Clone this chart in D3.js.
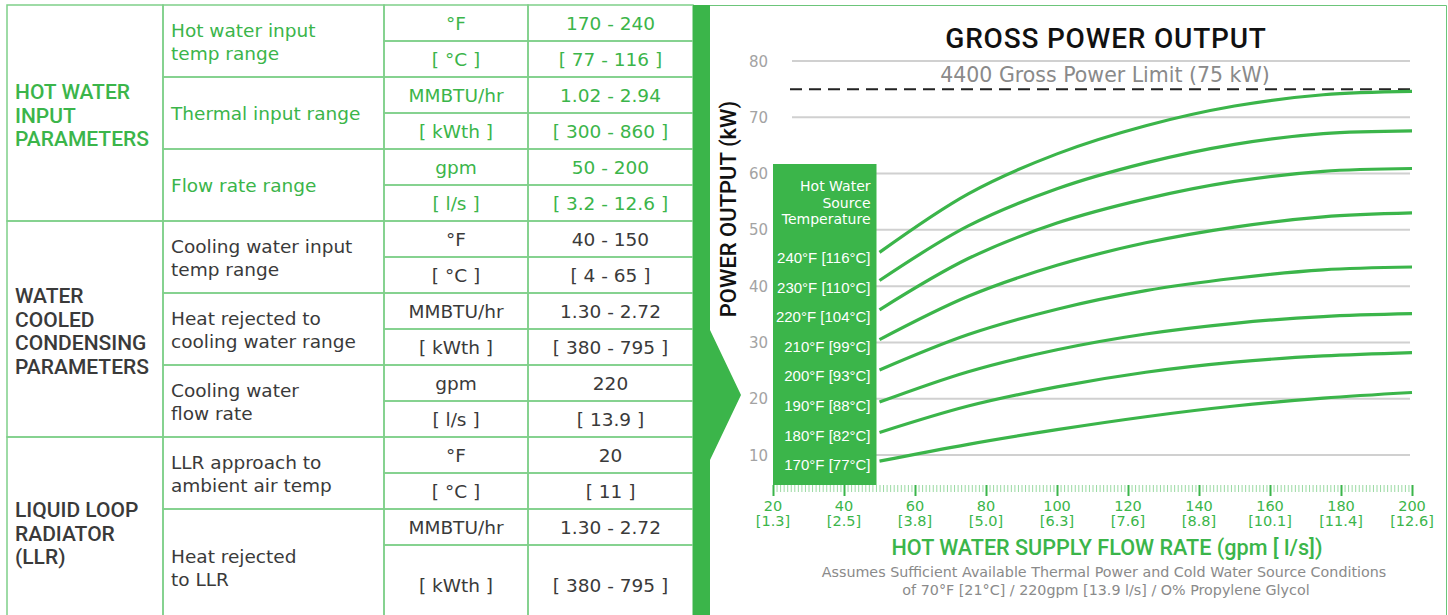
<!DOCTYPE html>
<html>
<head>
<meta charset="utf-8">
<script src="https://cdnjs.cloudflare.com/ajax/libs/d3/7.8.5/d3.min.js"></script>
<style>
  body { margin: 0; background: #fff; }
  svg { display: block; }
</style>
</head>
<body>
<div id="chart"></div>
<script>
// ---- table data ----
const sectionTitles = [
  ["HOT WATER", "INPUT", "PARAMETERS"],
  ["WATER", "COOLED", "CONDENSING", "PARAMETERS"],
  ["LIQUID LOOP", "RADIATOR", "(LLR)"]
];
const sectionRows = [6, 6, 4];
const paramLabels = [
  ["Hot water input", "temp range"],
  ["Thermal input range"],
  ["Flow rate range"],
  ["Cooling water input", "temp range"],
  ["Heat rejected to", "cooling water range"],
  ["Cooling water", "flow rate"],
  ["LLR approach to", "ambient air temp"],
  ["Heat rejected", "to LLR"]
];
const units = ["°F", "[ °C ]", "MMBTU/hr", "[ kWth ]", "gpm", "[ l/s ]",
               "°F", "[ °C ]", "MMBTU/hr", "[ kWth ]", "gpm", "[ l/s ]",
               "°F", "[ °C  ]", "MMBTU/hr", "[ kWth ]"];
const values = ["170 - 240", "[ 77 - 116 ]", "1.02 - 2.94", "[ 300 - 860 ]", "50 - 200", "[ 3.2 - 12.6 ]",
                "40 - 150", "[ 4 - 65 ]", "1.30 - 2.72", "[ 380 - 795 ]", "220", "[ 13.9 ]",
                "20", "[ 11 ]", "1.30 - 2.72", "[ 380 - 795 ]"];

// ---- chart data ----
const flowGpm = [50, 75, 100, 125, 150, 175, 200];
const tempLabels = ["240°F [116°C]", "230°F [110°C]", "220°F [104°C]", "210°F [99°C]",
                    "200°F [93°C]", "190°F [88°C]", "180°F [82°C]", "170°F [77°C]"];
const power240 = [46.0, 56.4, 63.5, 68.5, 72.0, 74.0, 74.6];
const power230 = [41.0, 50.7, 57.3, 61.9, 65.2, 67.1, 67.6];
const power220 = [35.8, 44.9, 51.2, 55.5, 58.6, 60.4, 60.9];
const power210 = [30.5, 38.2, 43.7, 47.7, 50.5, 52.3, 53.0];
const power200 = [25.1, 31.4, 35.9, 39.2, 41.4, 42.9, 43.4];
const power190 = [19.4, 24.8, 28.7, 31.5, 33.4, 34.6, 35.1];
const power180 = [14.0, 18.7, 22.1, 24.7, 26.5, 27.6, 28.2];
const power170 = [8.9, 11.9, 14.5, 16.8, 18.7, 20.1, 21.1];
const curves = [power240, power230, power220, power210, power200, power190, power180, power170];
const xTicks = [20, 40, 60, 80, 100, 120, 140, 160, 180, 200];
const xTickLps = ["[1.3]", "[2.5]", "[3.8]", "[5.0]", "[6.3]", "[7.6]", "[8.8]", "[10.1]", "[11.4]", "[12.6]"];
const yTicks = [10, 20, 30, 40, 50, 60, 70, 80];
const powerLimit = 75;

const green = "#3bb54a", lineGreen = "#7fcf89", dark = "#3a3a3a";
const headFont = "Roboto, 'DejaVu Sans', sans-serif";
const bodyFont = "'DejaVu Sans', Verdana, sans-serif";
const labelFont = "'Liberation Sans', Arial, sans-serif";

const svg = d3.select("#chart").append("svg")
  .attr("width", 1448).attr("height", 615);

// ---------------- table ----------------
const colX = [7, 163, 384, 528, 693];
const rowH = d3.range(16).map(i => i === 15 ? 80 : 36);
const rowY = [5];
rowH.forEach((h, i) => rowY.push(rowY[i] + h));

const tbl = svg.append("g").attr("font-family", bodyFont);
const cell = (x0, x1, y0, y1) => tbl.append("rect")
  .attr("x", x0).attr("y", y0).attr("width", x1 - x0).attr("height", y1 - y0)
  .attr("fill", "none").attr("stroke", lineGreen).attr("stroke-width", 1.5);

let r = 0;
sectionTitles.forEach((lines, s) => {
  const y0 = rowY[r], y1 = rowY[r + sectionRows[s]];
  cell(colX[0], colX[1], y0, y1);
  const c = (y0 + y1) / 2 + 9.5;
  lines.forEach((t, i) => {
    tbl.append("text").attr("x", 15).attr("y", c + (i - (lines.length - 1) / 2) * 23.5)
      .attr("font-family", headFont).attr("font-weight", 500).attr("font-size", 21)
      .attr("fill", s === 0 ? green : dark).text(t);
  });
  r += sectionRows[s];
});

paramLabels.forEach((lines, p) => {
  const y0 = rowY[p * 2], y1 = rowY[p * 2 + 2];
  cell(colX[1], colX[2], y0, y1);
  const c = (y0 + y1) / 2;
  const ys = lines.length === 1 ? [c + 7] : [c - 4, c + 19];
  lines.forEach((t, i) => {
    tbl.append("text").attr("x", 171).attr("y", ys[i]).attr("font-size", 18.5)
      .attr("fill", p < 3 ? green : dark).text(t);
  });
});

units.forEach((u, i) => {
  const y0 = rowY[i], y1 = rowY[i + 1];
  cell(colX[2], colX[3], y0, y1);
  cell(colX[3], colX[4], y0, y1);
  const col = i < 6 ? green : dark;
  tbl.append("text").attr("x", (colX[2] + colX[3]) / 2).attr("y", (y0 + y1) / 2 + 6.5)
    .attr("text-anchor", "middle").attr("font-size", 18.5).attr("fill", col).text(u);
  tbl.append("text").attr("x", (colX[3] + colX[4]) / 2).attr("y", (y0 + y1) / 2 + 6.5)
    .attr("text-anchor", "middle").attr("font-size", 18.5).attr("fill", col).text(values[i]);
});

// green separator with arrow
svg.append("path")
  .attr("d", "M693,5 H710 V330 L741,395 L710,460 V615 H693 Z")
  .attr("fill", green);
// chart panel border
svg.append("path").attr("d", "M710,5.5 H1446.5 V620")
  .attr("fill", "none").attr("stroke", "#6cc57a").attr("stroke-width", 1);

// ---------------- chart ----------------
const x = d3.scaleLinear().domain([20, 200]).range([773, 1412]);
const y = d3.scaleLinear().domain([10, 80]).range([455, 61]);
const gridLeft = 792, gridRight = 1410, axisY = 485;

const g = svg.append("g");

g.selectAll(".grid").data(yTicks).join("line")
  .attr("x1", gridLeft).attr("x2", gridRight)
  .attr("y1", d => y(d)).attr("y2", d => y(d))
  .attr("stroke", "#d0d0d0").attr("stroke-width", 2);

g.selectAll(".ylab").data(yTicks).join("text")
  .attr("x", 768).attr("y", d => y(d) + 5.5).attr("text-anchor", "end")
  .attr("font-family", bodyFont).attr("font-size", 15).attr("fill", "#a3a3a3")
  .text(d => d);

// power limit
g.append("line").attr("x1", 790).attr("x2", x(200))
  .attr("y1", y(powerLimit)).attr("y2", y(powerLimit))
  .attr("stroke", "#222").attr("stroke-width", 2).attr("stroke-dasharray", "12,7");
g.append("text").attr("x", 1105).attr("y", 82).attr("text-anchor", "middle")
  .attr("font-family", bodyFont).attr("font-size", 20.5).attr("fill", "#8a8a8a")
  .text("4400 Gross Power Limit (" + powerLimit + " kW)");

// curves
const line = d3.line().x((d, i) => x(flowGpm[i])).y(d => y(d)).curve(d3.curveCatmullRom.alpha(0.5));
g.selectAll(".curve").data(curves).join("path")
  .attr("d", line).attr("fill", "none").attr("stroke", green).attr("stroke-width", 3.2);

// legend box
g.append("rect").attr("x", x(20)).attr("y", 164)
  .attr("width", x(50) - 3 - x(20)).attr("height", axisY - 164).attr("fill", green);
const legX = x(50) - 9;
["Hot Water", "Source", "Temperature"].forEach((t, i) => {
  g.append("text").attr("x", legX).attr("y", 191 + i * 16.5).attr("text-anchor", "end")
    .attr("font-family", bodyFont).attr("font-size", 14).attr("fill", "#fff").text(t);
});
g.selectAll(".tlab").data(tempLabels).join("text")
  .attr("x", legX).attr("y", (d, i) => 263 + i * 29.6).attr("text-anchor", "end")
  .attr("font-family", labelFont).attr("font-size", 15).attr("fill", "#fff")
  .text(d => d);

// x axis ticks
const minor = g.append("g").attr("transform", `translate(0,${axisY})`)
  .call(d3.axisBottom(x).tickValues(d3.range(21, 200).filter(v => v % 20)).tickSize(7).tickFormat(""));
minor.select(".domain").remove();
minor.selectAll("line").attr("stroke", "#9ad9a2").attr("stroke-width", 1);
const major = g.append("g").attr("transform", `translate(0,${axisY})`)
  .call(d3.axisBottom(x).tickValues(xTicks).tickSize(11).tickFormat(""));
major.select(".domain").remove();
major.selectAll("line").attr("stroke", green).attr("stroke-width", 2);

const xl = g.selectAll(".xlab").data(xTicks).join("text")
  .attr("text-anchor", "middle").attr("font-family", bodyFont)
  .attr("font-size", 14.5).attr("fill", green);
xl.append("tspan").attr("x", d => x(d)).attr("y", 511).text(d => d);
xl.append("tspan").attr("x", d => x(d)).attr("y", 526).text((d, i) => xTickLps[i]);

// titles
g.append("text").attr("x", 1106).attr("y", 48).attr("text-anchor", "middle")
  .attr("font-family", headFont).attr("font-weight", 500).attr("font-size", 28)
  .attr("letter-spacing", 0.8).attr("fill", "#111").text("GROSS POWER OUTPUT");
g.append("text").attr("transform", "translate(736,209) rotate(-90)").attr("text-anchor", "middle")
  .attr("font-family", headFont).attr("font-weight", 500).attr("font-size", 22)
  .attr("fill", "#111").text("POWER OUTPUT (kW)");
g.append("text").attr("x", 1107).attr("y", 555).attr("text-anchor", "middle")
  .attr("font-family", headFont).attr("font-weight", 500).attr("font-size", 21.6)
  .attr("fill", green).text("HOT WATER SUPPLY FLOW RATE (gpm [ l/s])");
g.append("text").attr("x", 1104).attr("y", 577).attr("text-anchor", "middle")
  .attr("font-family", bodyFont).attr("font-size", 14.3).attr("fill", "#8a8a8a")
  .text("Assumes Sufficient Available Thermal Power and Cold Water Source Conditions");
g.append("text").attr("x", 1106).attr("y", 595).attr("text-anchor", "middle")
  .attr("font-family", bodyFont).attr("font-size", 14.3).attr("fill", "#8a8a8a")
  .text("of 70°F [21°C] / 220gpm [13.9 l/s] / O% Propylene Glycol");
</script>
</body>
</html>
